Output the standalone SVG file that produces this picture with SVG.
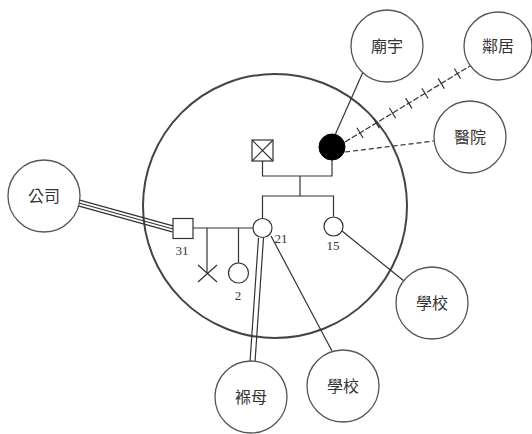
<svg xmlns="http://www.w3.org/2000/svg" width="532" height="434" viewBox="0 0 532 434">
<style>
  .ln{stroke:#333;stroke-width:1.2;fill:none}
  .oc{fill:#fff;stroke:#555;stroke-width:1.3}
  .sym{fill:#fff;stroke:#333;stroke-width:1.2}
  .cj{font-family:"Liberation Serif","Noto Sans CJK TC",serif;font-size:16px;fill:#333;text-anchor:middle;dominant-baseline:central}
  .num{font-family:"Liberation Serif",serif;font-size:13px;fill:#333;text-anchor:middle}
</style>
<defs>
  <marker id="tick" markerUnits="userSpaceOnUse" markerWidth="14" markerHeight="14" refX="0" refY="0" viewBox="-7 -7 14 14" orient="auto" overflow="visible">
    <path d="M0,-6 L0,6" stroke="#333" stroke-width="1.2" fill="none"/>
  </marker>
</defs>
<rect width="532" height="434" fill="#fff"/>
<g id="ecomap-boundary">
  <circle cx="275" cy="206" r="132" fill="none" stroke="#444" stroke-width="2"/>
</g>
<g id="connectors">
  <line class="ln" x1="79.8" y1="200.1" x2="173.8" y2="226.1"/>
  <line class="ln" x1="79" y1="203" x2="173" y2="229"/>
  <line class="ln" x1="78.2" y1="205.9" x2="172.2" y2="231.9"/>
  <line class="ln" x1="258.5" y1="238" x2="250" y2="362"/>
  <line class="ln" x1="263.5" y1="238" x2="255" y2="362"/>
  <line class="ln" x1="271" y1="236" x2="332" y2="351"/>
  <line class="ln" x1="342" y1="231" x2="404" y2="281"/>
  <line class="ln" x1="363" y1="72" x2="335" y2="135"/>
  <polyline class="ln" stroke-dasharray="6 2" marker-mid="url(#tick)" points="345,142 360,132.9 376.25,123 392.5,113.1 408.75,103.2 425,93.4 441.25,83.5 457.5,73.6 470,66"/>
  <line class="ln" stroke-dasharray="5 3" x1="345" y1="152" x2="434" y2="141"/>
  <polyline class="ln" points="262.5,161 262.5,176 332,176 332,160"/>
  <line class="ln" x1="300" y1="176" x2="300" y2="196"/>
  <polyline class="ln" points="262.5,218 262.5,196 333.5,196 333.5,216.5"/>
  <line class="ln" x1="193" y1="228" x2="253" y2="228"/>
  <line class="ln" x1="207" y1="228" x2="207" y2="273"/>
  <line class="ln" x1="238.5" y1="228" x2="238.5" y2="263"/>
</g>
<g id="father">
  <rect class="sym" x="252" y="140" width="21" height="21"/>
  <path class="ln" d="M252,140 L273,161 M273,140 L252,161"/>
</g>
<g id="mother">
  <circle cx="332" cy="147" r="13" fill="#000" stroke="#000"/>
</g>
<g id="husband">
  <rect class="sym" x="173" y="218.5" width="20" height="20"/>
  <text class="num" x="182" y="255">31</text>
</g>
<g id="client">
  <circle class="sym" cx="262.5" cy="228" r="9.5"/>
  <text class="num" x="281" y="243">21</text>
</g>
<g id="sister">
  <circle class="sym" cx="333.5" cy="226.5" r="9.5"/>
  <text class="num" x="333" y="250">15</text>
</g>
<g id="miscarriage">
  <path class="ln" d="M198,265 L217,282 M217,265 L198,282"/>
</g>
<g id="child">
  <circle class="sym" cx="238.5" cy="273" r="10"/>
  <text class="num" x="238" y="300">2</text>
</g>
<g id="temple">
  <circle class="oc" cx="387" cy="46" r="36"/>
  <text class="cj" x="387" y="46">廟宇</text>
</g>
<g id="neighbors">
  <circle class="oc" cx="498" cy="46" r="34"/>
  <text class="cj" x="498" y="46">鄰居</text>
</g>
<g id="hospital">
  <circle class="oc" cx="470" cy="137" r="36"/>
  <text class="cj" x="470" y="137">醫院</text>
</g>
<g id="company">
  <circle class="oc" cx="44" cy="196" r="36"/>
  <text class="cj" x="44" y="196">公司</text>
</g>
<g id="school-sister">
  <circle class="oc" cx="432" cy="303" r="36"/>
  <text class="cj" x="432" y="303">學校</text>
</g>
<g id="school-client">
  <circle class="oc" cx="343" cy="386" r="36"/>
  <text class="cj" x="343" y="386">學校</text>
</g>
<g id="nanny">
  <circle class="oc" cx="251" cy="397" r="36"/>
  <text class="cj" x="251" y="397">褓母</text>
</g>
</svg>
